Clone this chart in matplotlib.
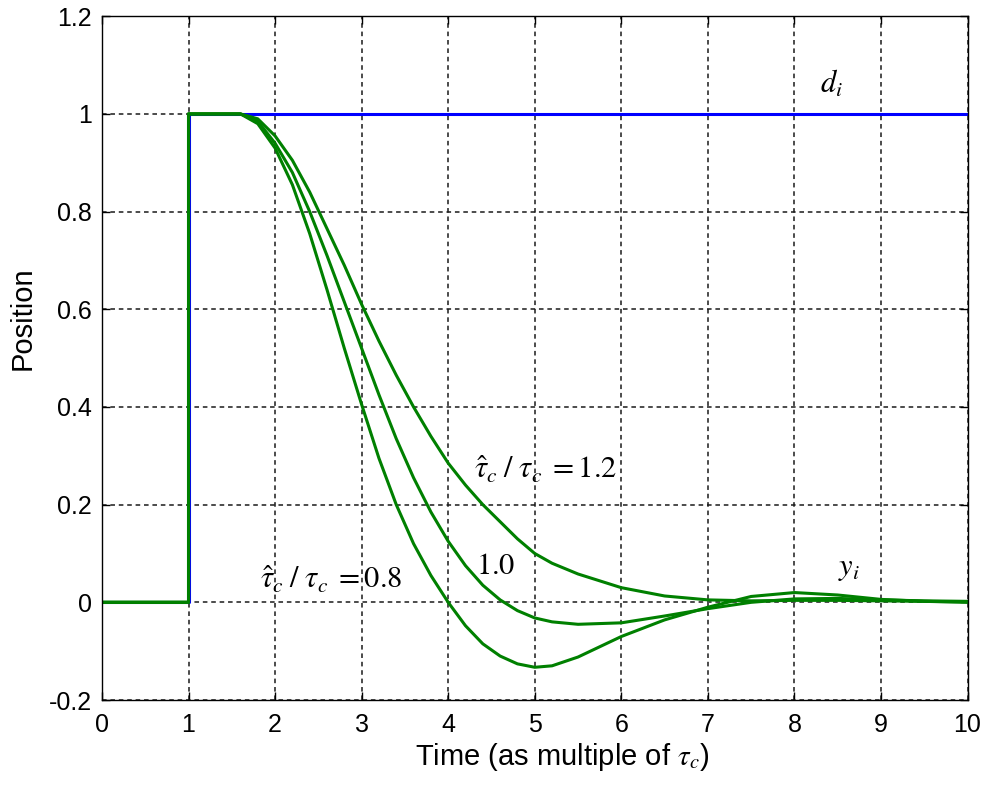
import matplotlib
matplotlib.use('Agg')
import matplotlib.pyplot as plt

# Datos
t = [0, 1, 1, 1.6, 1.8, 2.0, 2.2, 2.4, 2.6, 2.8, 3.0, 3.2, 3.4, 3.6, 3.8, 4.0,
     4.2, 4.4, 4.6, 4.8, 5.0, 5.2, 5.5, 6.0, 6.5, 7.0, 7.5, 8.0, 8.5, 9.0, 9.5, 10]
y08 = [0, 0, 1, 1, 0.98, 0.93, 0.855, 0.755, 0.64, 0.52, 0.405, 0.295, 0.20, 0.12, 0.055, 0.0,
       -0.048, -0.085, -0.11, -0.126, -0.133, -0.13, -0.112, -0.07, -0.036, -0.01,
       0.012, 0.02, 0.015, 0.006, 0.002, 0.0]
y10 = [0, 0, 1, 1, 0.985, 0.94, 0.88, 0.80, 0.71, 0.615, 0.52, 0.425, 0.335, 0.255, 0.185, 0.125,
       0.075, 0.035, 0.005, -0.017, -0.032, -0.04, -0.045, -0.042, -0.028, -0.013,
       0.0, 0.007, 0.008, 0.005, 0.003, 0.002]
y12 = [0, 0, 1, 1, 0.99, 0.955, 0.905, 0.84, 0.765, 0.69, 0.61, 0.535, 0.465, 0.40, 0.34, 0.285,
       0.24, 0.20, 0.165, 0.13, 0.10, 0.08, 0.058, 0.03, 0.013, 0.005,
       0.003, 0.004, 0.004, 0.003, 0.002, 0.001]
t_d = [0, 1, 1, 10]
d = [0, 0, 1, 1]

xticks = [0, 1, 2, 3, 4, 5, 6, 7, 8, 9, 10]
yticks = [-0.2, 0, 0.2, 0.4, 0.6, 0.8, 1, 1.2]
ytick_labels = ['-0.2', '0', '0.2', '0.4', '0.6', '0.8', '1', '1.2']

plt.rcParams['font.family'] = ['Liberation Sans', 'DejaVu Sans']
plt.rcParams['mathtext.fontset'] = 'stix'
plt.rcParams['axes.unicode_minus'] = False

fig = plt.figure(figsize=(9.87, 7.96), dpi=100)
ax = fig.add_axes([0.1033, 0.1206, 0.877, 0.859])

# Grafica
ax.plot(t_d, d, color='#0000ff', lw=2.2)
ax.plot(t, y08, color='#008000', lw=2.2)
ax.plot(t, y10, color='#008000', lw=2.2)
ax.plot(t, y12, color='#008000', lw=2.2)

ax.set_xlim(0, 10)
ax.set_ylim(-0.2, 1.2)
ax.set_xticks(xticks)
ax.set_yticks(yticks)
ax.set_yticklabels(ytick_labels)
ax.tick_params(direction='in', length=6, width=1, labelsize=18, top=True, right=True)
ax.tick_params(axis='x', pad=9)
ax.tick_params(axis='y', pad=7)
ax.grid(True, color='#1a1a1a', linestyle=(0, (3, 2.5)), linewidth=1.1)
for s in ax.spines.values():
    s.set_linewidth(1.0)

ax.set_xlabel(r'Time (as multiple of $\tau_c$)', fontsize=21)
ax.xaxis.set_label_coords(0.532, -0.06)
ax.set_ylabel('Position', fontsize=21)
ax.yaxis.set_label_coords(-0.075, 0.558)

ax.text(1.83, 0.045, r'$\hat{\tau}_c\;/\;\tau_c\;=0.8$', fontsize=22, va='center', ha='left')
ax.text(4.32, 0.075, r'$1.0$', fontsize=22, va='center', ha='left')
ax.text(4.3, 0.27, r'$\hat{\tau}_c\;/\;\tau_c\;=1.2$', fontsize=22, va='center', ha='left')
ax.text(8.3, 1.06, r'$d_i$', fontsize=22, va='center', ha='left')
ax.text(8.5, 0.07, r'$y_i$', fontsize=22, va='center', ha='left')

plt.savefig('out.png', dpi=100)
